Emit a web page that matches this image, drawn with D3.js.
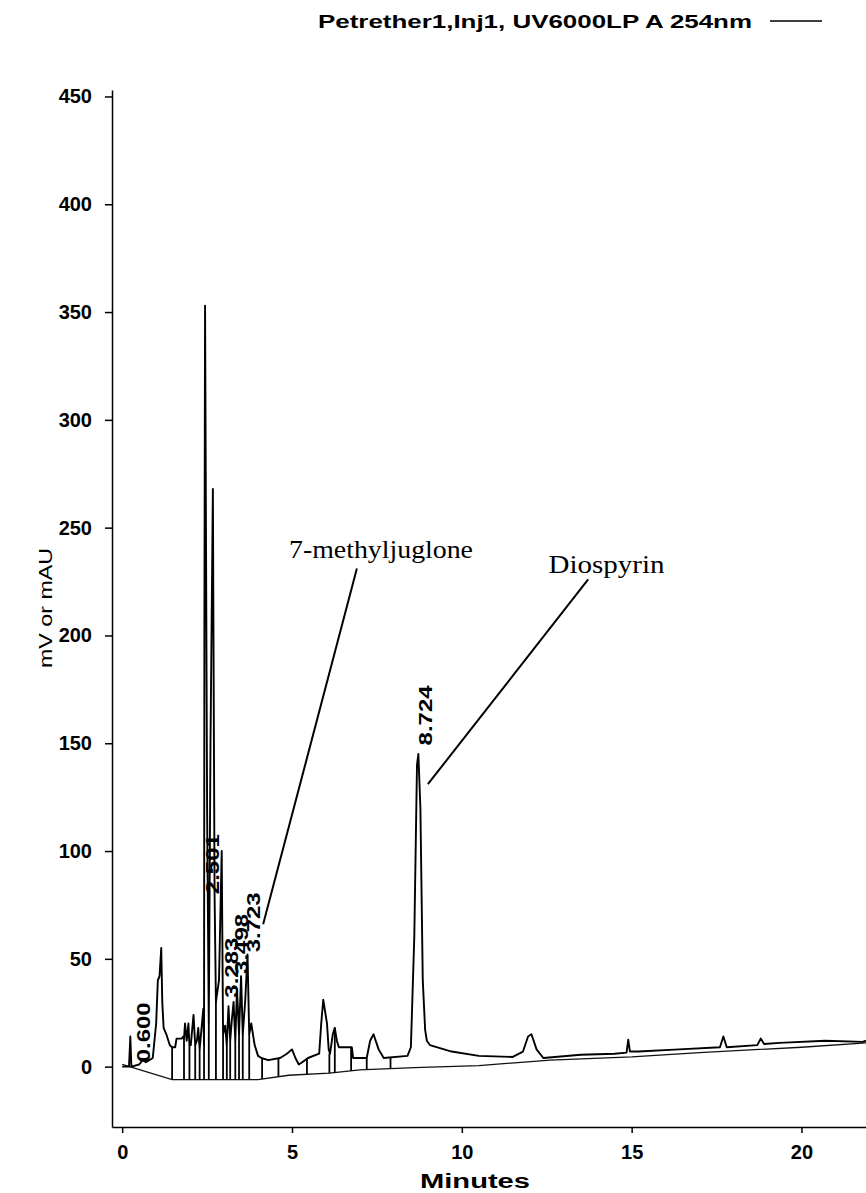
<!DOCTYPE html>
<html>
<head>
<meta charset="utf-8">
<script src="https://cdn.jsdelivr.net/npm/d3@7"></script>
<style>
  body { margin: 0; background: #fff; }
  svg { display: block; }
  text { font-family: "Liberation Sans", Arial, sans-serif; fill: #000; }
</style>
</head>
<body>
<svg id="chart" width="866" height="1193"></svg>
<script>
// detector trace, [minutes, mV or mAU]
const trace = [
  [0, 0], [0.2, 0], [0.24, 14], [0.27, 0], [0.5, 1], [0.6, 3], [0.7, 2], [0.9, 4],
  [1.0, 20], [1.05, 40], [1.1, 42], [1.15, 55], [1.18, 30], [1.22, 18], [1.3, 15],
  [1.4, 10], [1.47, 9], [1.5, 9], [1.56, 9], [1.6, 13], [1.75, 13], [1.8, 14],
  [1.82, 13], [1.85, 20], [1.9, 12], [1.95, 20], [1.98, 10], [2.02, 10], [2.1, 24],
  [2.15, 10], [2.2, 12], [2.24, 18], [2.28, 8], [2.32, 15], [2.39, 27], [2.41, 10],
  [2.42, 200], [2.44, 353], [2.5, 120], [2.55, 20], [2.6, 150], [2.67, 268],
  [2.72, 80], [2.76, 30], [2.85, 40], [2.93, 100], [2.97, 15], [3.03, 19], [3.08, 10],
  [3.13, 28], [3.18, 12], [3.23, 22], [3.28, 30], [3.33, 12], [3.38, 36], [3.44, 15],
  [3.5, 42], [3.55, 15], [3.62, 30], [3.69, 52], [3.74, 15], [3.8, 20], [3.9, 10],
  [4.0, 5], [4.1, 4], [4.3, 3], [4.65, 4], [4.85, 6], [5.0, 8], [5.1, 4], [5.2, 1],
  [5.3, 2], [5.47, 4], [5.8, 6], [5.86, 20], [5.92, 31], [5.98, 25], [6.03, 20],
  [6.08, 8], [6.12, 6], [6.2, 15], [6.26, 18], [6.32, 12], [6.38, 9], [6.76, 9],
  [6.8, 4], [7.2, 4], [7.3, 12], [7.4, 15], [7.55, 8], [7.7, 4], [8.4, 5], [8.5, 9],
  [8.6, 60], [8.68, 140], [8.72, 145], [8.78, 120], [8.85, 40], [8.92, 17],
  [8.97, 12], [9.06, 10], [9.7, 7], [10.5, 5], [11.5, 4.5], [11.8, 7], [11.95, 14],
  [12.05, 15], [12.2, 8], [12.4, 4], [13.5, 5.5], [14.5, 6], [14.85, 6.5],
  [14.9, 12.5], [14.95, 7], [15.2, 7], [16.4, 8], [17.6, 9], [17.7, 14], [17.8, 9],
  [18.7, 10], [18.8, 13], [18.9, 10.5], [19.35, 11], [20.7, 12], [21.8, 11.5], [21.9, 12]
];

// integration baseline under the trace
const baseline = [
  [0, 1], [1.47, -6], [4.0, -6], [4.9, -4], [6.1, -3], [7.0, -1.5], [8.6, -0.5],
  [10.5, 0.5], [12.6, 3], [15, 4.5], [17, 6.5], [20, 9], [21.9, 11]
];

// peak drop lines: [minutes, top value]
const dropLines = [
  [1.47, 9], [1.82, 13], [1.98, 10], [2.15, 10], [2.28, 8], [2.41, 10], [2.55, 20],
  [2.76, 30], [2.97, 15], [3.08, 10], [3.18, 12], [3.33, 12], [3.44, 15], [3.55, 15],
  [3.74, 15], [4.12, 4], [4.6, 4], [5.44, 4], [6.1, 6], [6.26, 18], [6.74, 9],
  [7.2, 4], [7.9, 4.5]
];

// retention time labels: [minutes, label, height of label start]
const peakLabels = [
  [0.61, '0.600', 2],
  [2.64, '2.501', 80],
  [3.2, '3.283', 32],
  [3.52, '3.498', 43],
  [3.85, '3.723', 53],
  [8.92, '8.724', 149]
];

const annotations = [
  { text: '7-methyljuglone', width: 184, at: [7.62, 236], from: [6.91, 231], to: [4.15, 66] },
  { text: 'Diospyrin', width: 116, at: [14.26, 229], from: [13.72, 226], to: [9.0, 131] }
];

const xTicks = [0, 5, 10, 15, 20];
const yTicks = [0, 50, 100, 150, 200, 250, 300, 350, 400, 450];
const legendLabel = 'Petrether1,Inj1, UV6000LP A 254nm';

const svg = d3.select('#chart');
const x = d3.scaleLinear().domain([-0.3, 21.9]).range([112, 866]);
const y = d3.scaleLinear().domain([-28, 453]).range([1127, 90]);

// axes
const xAxis = svg.append('g')
  .attr('transform', `translate(0,${y(-28)})`)
  .call(d3.axisBottom(x).tickValues(xTicks).tickSizeInner(6).tickSizeOuter(0).tickPadding(12).tickFormat(d3.format('d')));
xAxis.selectAll('text').attr('font-size', 20).attr('font-weight', 'bold');

const yAxis = svg.append('g')
  .attr('transform', `translate(${x(-0.3)},0)`)
  .call(d3.axisLeft(y).tickValues(yTicks).tickSizeInner(7).tickSizeOuter(0).tickPadding(13));
yAxis.selectAll('text').attr('font-size', 20).attr('font-weight', 'bold');

svg.selectAll('.domain, .tick line').attr('stroke', '#000').attr('stroke-width', 1.5);

svg.append('text')
  .attr('x', 420).attr('y', 1188)
  .attr('font-size', 20).attr('font-weight', 'bold')
  .attr('textLength', 110).attr('lengthAdjust', 'spacingAndGlyphs')
  .text('Minutes');

svg.append('text')
  .attr('transform', 'translate(52,668) rotate(-90)')
  .attr('font-size', 19)
  .attr('textLength', 120).attr('lengthAdjust', 'spacingAndGlyphs')
  .text('mV or mAU');

// legend
svg.append('text')
  .attr('x', 318).attr('y', 28)
  .attr('font-size', 19).attr('font-weight', 'bold')
  .attr('textLength', 434).attr('lengthAdjust', 'spacingAndGlyphs')
  .text(legendLabel);
svg.append('line')
  .attr('x1', 770).attr('x2', 822).attr('y1', 21).attr('y2', 21)
  .attr('stroke', '#000').attr('stroke-width', 1.5);

// baseline and drop lines
const line = d3.line().x(d => x(d[0])).y(d => y(d[1]));
svg.append('path')
  .datum(baseline)
  .attr('d', line)
  .attr('fill', 'none')
  .attr('stroke', '#111')
  .attr('stroke-width', 1.3);

const baseAt = d3.scaleLinear().domain(baseline.map(d => d[0])).range(baseline.map(d => d[1]));
svg.append('g').selectAll('line')
  .data(dropLines)
  .join('line')
  .attr('x1', d => x(d[0])).attr('x2', d => x(d[0]))
  .attr('y1', d => y(d[1])).attr('y2', d => y(baseAt(d[0])))
  .attr('stroke', '#000').attr('stroke-width', 1.8);

// trace
svg.append('path')
  .datum(trace)
  .attr('d', line)
  .attr('fill', 'none')
  .attr('stroke', '#000')
  .attr('stroke-width', 1.9)
  .attr('stroke-linejoin', 'round');

// retention time labels
svg.append('g').selectAll('text')
  .data(peakLabels)
  .join('text')
  .attr('transform', d => `translate(${x(d[0])},${y(d[2])}) rotate(-90)`)
  .attr('dy', '0.35em')
  .attr('font-size', 19).attr('font-weight', 'bold')
  .attr('textLength', 60).attr('lengthAdjust', 'spacingAndGlyphs')
  .text(d => d[1]);

// compound annotations
const ann = svg.append('g').selectAll('g').data(annotations).join('g');
ann.append('line')
  .attr('x1', d => x(d.from[0])).attr('y1', d => y(d.from[1]))
  .attr('x2', d => x(d.to[0])).attr('y2', d => y(d.to[1]))
  .attr('stroke', '#000').attr('stroke-width', 2);
ann.append('text')
  .attr('x', d => x(d.at[0]) - d.width / 2).attr('y', d => y(d.at[1]))
  .style('font-family', '"Liberation Serif", "Times New Roman", serif')
  .attr('font-size', 25)
  .attr('textLength', d => d.width).attr('lengthAdjust', 'spacingAndGlyphs')
  .text(d => d.text);
</script>
</body>
</html>
